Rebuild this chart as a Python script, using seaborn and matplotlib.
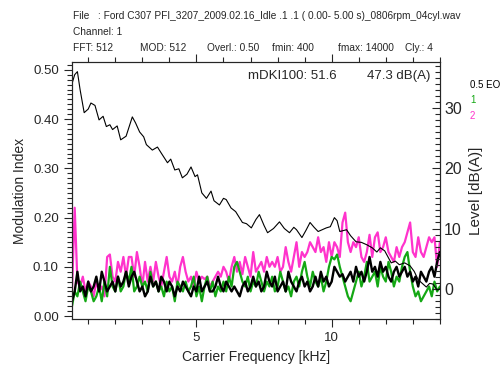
import numpy as np
import pandas as pd
import matplotlib
matplotlib.use("Agg")
import matplotlib.pyplot as plt
from matplotlib.ticker import MultipleLocator, FixedLocator, FormatStrFormatter
import seaborn as sns

# carrier frequency grid for the modulation index curves (kHz)
freq = np.round(np.arange(0.4, 14.0001, 0.1), 2)

mi_order2 = [
    0.05, 0.22, 0.07, 0.06, 0.08, 0.05, 0.07,
    0.06, 0.04, 0.07, 0.05, 0.06, 0.04,
    0.12, 0.125, 0.08, 0.07, 0.11, 0.09, 0.12, 0.08, 0.12,
    0.12, 0.08, 0.13, 0.10, 0.06, 0.11, 0.07, 0.10, 0.07, 0.11,
    0.08, 0.06, 0.09, 0.12, 0.08, 0.07, 0.09, 0.06, 0.10, 0.12,
    0.09, 0.07, 0.08, 0.06, 0.09, 0.07, 0.08, 0.075, 0.08, 0.06,
    0.07, 0.08, 0.09, 0.08, 0.10, 0.09, 0.07, 0.10, 0.12, 0.09,
    0.11, 0.085, 0.12, 0.10, 0.08, 0.13, 0.09, 0.10, 0.11, 0.09,
    0.12, 0.10, 0.11, 0.10, 0.12, 0.09, 0.10, 0.14, 0.11, 0.09,
    0.12, 0.15, 0.10, 0.13, 0.12, 0.13, 0.15, 0.14, 0.13, 0.16,
    0.13, 0.14, 0.11, 0.15, 0.12, 0.15, 0.14, 0.12, 0.19, 0.21,
    0.15, 0.13, 0.15, 0.14, 0.16, 0.12, 0.11, 0.13, 0.165, 0.12,
    0.16, 0.17, 0.13, 0.14, 0.16, 0.13, 0.12, 0.11, 0.14, 0.12,
    0.14, 0.15, 0.17, 0.19, 0.13, 0.12, 0.16, 0.13, 0.12, 0.14,
    0.16, 0.15, 0.16, 0.10, 0.15,
]

mi_order1 = [
    0.02, 0.05, 0.04, 0.07, 0.05, 0.03, 0.06,
    0.05, 0.03, 0.04, 0.06, 0.03, 0.07,
    0.04, 0.10, 0.06, 0.05, 0.08, 0.05, 0.06, 0.09, 0.07,
    0.10, 0.05, 0.06, 0.08, 0.06, 0.07, 0.05, 0.09, 0.06, 0.07,
    0.05, 0.06, 0.04, 0.07, 0.05, 0.06, 0.03, 0.07, 0.06, 0.05,
    0.07, 0.05, 0.06, 0.08, 0.04, 0.06, 0.03, 0.06, 0.08, 0.05,
    0.07, 0.04, 0.06, 0.05, 0.07, 0.05, 0.08, 0.06, 0.10, 0.11,
    0.09, 0.07, 0.06, 0.08, 0.05, 0.07, 0.06, 0.09, 0.07, 0.05,
    0.07, 0.06, 0.08, 0.05, 0.06, 0.09, 0.07, 0.05, 0.06, 0.04,
    0.07, 0.08, 0.06, 0.09, 0.11, 0.08, 0.06, 0.09, 0.07, 0.06,
    0.08, 0.05, 0.07, 0.10, 0.12, 0.115, 0.125, 0.10, 0.08, 0.06,
    0.04, 0.03, 0.05, 0.07, 0.09, 0.06, 0.08, 0.11, 0.07, 0.08,
    0.09, 0.06, 0.10, 0.08, 0.07, 0.11, 0.09, 0.06, 0.08, 0.07,
    0.10, 0.12, 0.13, 0.09, 0.06, 0.04, 0.05, 0.03, 0.04, 0.05,
    0.06, 0.04, 0.07, 0.05, 0.06,
]

mi_order05 = [
    0.03, 0.05, 0.09, 0.05, 0.06, 0.04, 0.07,
    0.05, 0.06, 0.08, 0.05, 0.09, 0.07,
    0.05, 0.06, 0.07, 0.05, 0.08, 0.06, 0.07, 0.09, 0.06,
    0.08, 0.09, 0.07, 0.05, 0.06, 0.04, 0.05, 0.08, 0.06, 0.07,
    0.05, 0.08, 0.07, 0.05, 0.07, 0.06, 0.04, 0.06, 0.05, 0.07,
    0.06, 0.05, 0.04, 0.06, 0.05, 0.08, 0.05, 0.06, 0.07, 0.05,
    0.05, 0.06, 0.08, 0.06, 0.05, 0.07, 0.06, 0.05, 0.06, 0.05,
    0.04, 0.06, 0.07, 0.05, 0.06, 0.08, 0.06, 0.07, 0.05, 0.06,
    0.09, 0.07, 0.06, 0.08, 0.05, 0.06, 0.07, 0.05, 0.09, 0.07,
    0.06, 0.05, 0.07, 0.08, 0.06, 0.07, 0.05, 0.06, 0.08, 0.06,
    0.09, 0.07, 0.08, 0.06, 0.07, 0.10, 0.09, 0.08, 0.085, 0.07,
    0.08, 0.09, 0.07, 0.10, 0.08, 0.09, 0.07, 0.09, 0.12, 0.09,
    0.10, 0.08, 0.11, 0.09, 0.10, 0.08, 0.07, 0.09, 0.10, 0.08,
    0.09, 0.10, 0.08, 0.09, 0.07, 0.08, 0.06, 0.09, 0.08, 0.07,
    0.09, 0.10, 0.08, 0.11, 0.13,
]

# level spectrum (right axis, dB(A))
level_freq = [0.4, 0.5, 0.6, 0.7, 0.85, 1.0, 1.1, 1.25, 1.4, 1.55, 1.67, 1.8, 1.9,
              2.07, 2.2, 2.4, 2.63, 2.75, 2.9, 3.05, 3.15, 3.37, 3.56, 3.7, 3.93,
              4.05, 4.2, 4.35, 4.48, 4.65, 4.8, 4.95, 5.04, 5.2, 5.37, 5.54, 5.65,
              5.85, 6.0, 6.1, 6.28, 6.45, 6.7, 6.85, 7.03, 7.2, 7.33, 7.5, 7.63,
              7.85, 8.07, 8.25, 8.44, 8.6, 8.7, 8.9, 9.05, 9.2, 9.35, 9.5, 9.65,
              9.8, 9.95, 10.1, 10.2, 10.3, 10.55, 10.7, 10.9, 11.1, 11.3, 11.5,
              11.67, 11.8, 11.96, 12.2, 12.35, 12.5, 12.7, 12.9, 13.05, 13.2,
              13.35, 13.5, 13.62, 13.74, 13.9, 14.0]
level_db = [34.0, 35.5, 36.0, 33.0, 29.2, 29.8, 30.8, 30.4, 28.0, 28.6, 26.9, 27.2, 26.4,
            27.0, 24.7, 25.3, 28.5, 27.5, 26.0, 25.2, 23.9, 23.0, 23.5, 22.5, 20.9,
            21.5, 19.7, 19.9, 18.4, 19.0, 20.2, 18.6, 18.9, 15.9, 15.0, 16.2, 14.6,
            13.9, 15.0, 14.8, 13.4, 12.8, 11.0, 10.8, 10.1, 11.5, 12.3, 10.5, 9.3,
            10.0, 11.1, 10.0, 9.3, 10.2, 9.8, 8.5, 9.7, 11.0, 10.2, 9.5, 9.8,
            10.1, 10.3, 11.8, 11.3, 9.5, 9.8, 8.8, 7.8, 7.7, 7.3, 6.8,
            6.1, 6.8, 6.3, 4.3, 4.6, 4.0, 4.3, 3.8, 2.9, 1.5,
            0.9, 0.3, 0.9, 0.8, -0.2, 0.0]

header_line1 = "File   : Ford C307 PFI_3207_2009.02.16_Idle .1 .1 ( 0.00- 5.00 s)_0806rpm_04cyl.wav"
header_line2 = "Channel: 1"
header_items = ["FFT: 512", "MOD: 512", "Overl.: 0.50", "fmin: 400", "fmax: 14000", "Cly.: 4"]
legend_labels = ["0.5 EO", "1", "2"]

sns.set_style("ticks")
plt.rcParams['font.family'] = ['Liberation Sans', 'DejaVu Sans']

GREEN = '#14a814'
MAGENTA = '#ff33cc'

df = pd.DataFrame({'f': freq, 'o2': mi_order2, 'o1': mi_order1, 'o05': mi_order05})
df_lvl = pd.DataFrame({'f': level_freq, 'db': level_db})

fig = plt.figure(figsize=(5.01, 3.69), dpi=100)
ax = fig.add_axes([0.1437, 0.1355, 0.7343, 0.6965])

sns.lineplot(data=df, x='f', y='o2', ax=ax, color=MAGENTA, linewidth=1.6)
sns.lineplot(data=df, x='f', y='o1', ax=ax, color=GREEN, linewidth=1.6)
sns.lineplot(data=df, x='f', y='o05', ax=ax, color='black', linewidth=1.7)

ax.set_xlim(0.4, 14.0)
ax.set_ylim(-0.006, 0.516)
ax.xaxis.set_major_locator(FixedLocator([5, 10]))
ax.xaxis.set_minor_locator(MultipleLocator(1))
ax.yaxis.set_major_locator(MultipleLocator(0.1))
ax.yaxis.set_minor_locator(MultipleLocator(0.01))
ax.yaxis.set_major_formatter(FormatStrFormatter('%.2f'))
ax.tick_params(axis='both', which='major', direction='out', length=6, width=0.8, labelsize=9.5)
ax.tick_params(axis='both', which='minor', direction='out', length=3.5, width=0.8)
ax.tick_params(axis='x', top=True, which='both')
ax.set_xlabel('Carrier Frequency [kHz]', fontsize=10)
ax.set_ylabel('Modulation Index', fontsize=10)

ax2 = ax.twinx()
sns.lineplot(data=df_lvl, x='f', y='db', ax=ax2, color='black', linewidth=0.8)
ax2.set_ylim(-5.0, 37.6)
ax2.yaxis.set_major_locator(MultipleLocator(10))
ax2.yaxis.set_minor_locator(MultipleLocator(1))
ax2.tick_params(axis='y', which='major', direction='in', length=6, width=0.8,
                labelsize=11.5, pad=3)
ax2.tick_params(axis='y', which='minor', direction='in', length=3.5, width=0.8)
ax2.set_ylabel('Level [dB(A)]', fontsize=11)
ax2.yaxis.set_label_coords(1.08, 0.5)

for a in (ax, ax2):
    for s in a.spines.values():
        s.set_linewidth(0.8)
        s.set_visible(True)

ax.text(0.60, 0.945, 'mDKI100: 51.6', transform=ax.transAxes, fontsize=9.5,
        ha='center', va='center')
ax.text(0.975, 0.945, '47.3 dB(A)', transform=ax.transAxes, fontsize=9.5,
        ha='right', va='center')

# header block
fig.text(73 / 501, 1 - 16 / 369, header_line1, fontsize=7.3, va='center')
fig.text(73 / 501, 1 - 32 / 369, header_line2, fontsize=7.3, va='center')
for xpx, item in zip([73, 140, 207, 272, 338, 405], header_items):
    fig.text(xpx / 501, 1 - 48 / 369, item, fontsize=7.3, va='center')

# legend labels on the right
for ypx, lab, col in zip([85, 100, 116], legend_labels, ['black', GREEN, MAGENTA]):
    fig.text(470 / 501, 1 - ypx / 369, lab, fontsize=7, color=col, va='center')

fig.savefig('out.png', dpi=100)
